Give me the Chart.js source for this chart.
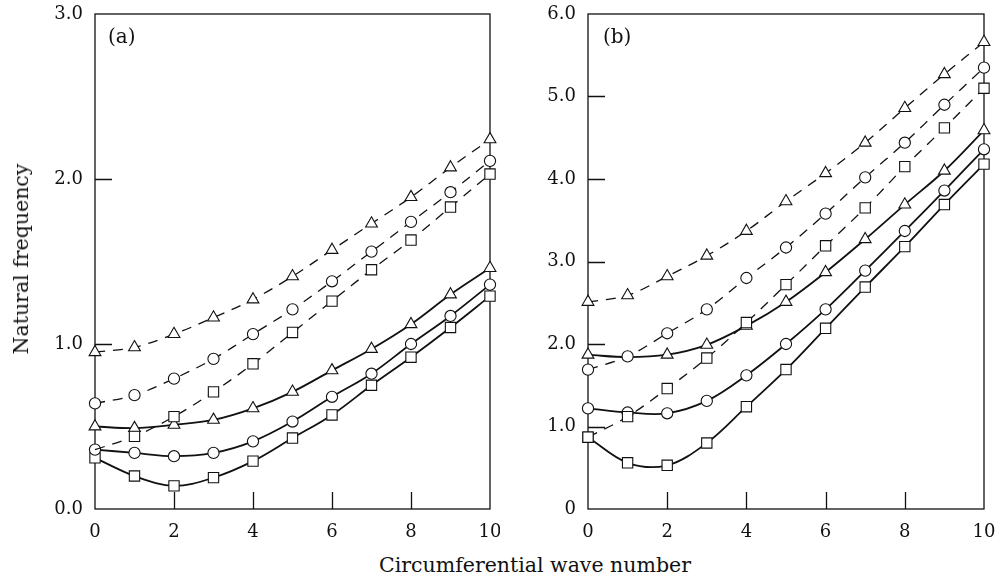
<!DOCTYPE html>
<html>
<head>
<meta charset="utf-8">
<script src="https://cdn.jsdelivr.net/npm/chart.js@4/dist/chart.umd.min.js"></script>
<style>
  html, body { margin: 0; padding: 0; background: #fff; }
  #wrap { position: relative; width: 996px; height: 578px; overflow: hidden; font-family: "DejaVu Serif", serif; color: #111; }
  canvas { position: absolute; top: 0; }
  #chartA { left: 0; }
  #chartB { left: 496px; }
  .tag { position: absolute; top: 26px; font-size: 20px; line-height: 20px; }
  #ytitle { position: absolute; left: 21px; top: 259px; font-size: 20.5px; white-space: nowrap;
            transform: translate(-50%, -50%) rotate(-90deg); }
  #xtitle { position: absolute; left: 535px; top: 565px; font-size: 20.5px; white-space: nowrap;
            transform: translate(-50%, -50%); }
</style>
</head>
<body>
<div id="wrap">
  <canvas id="chartA" width="500" height="540"></canvas>
  <canvas id="chartB" width="500" height="540"></canvas>
  <div class="tag" style="left:108px">(a)</div>
  <div class="tag" style="left:603px">(b)</div>
  <div id="ytitle">Natural frequency</div>
  <div id="xtitle">Circumferential wave number</div>
</div>
<script>
  // Circumferential wave numbers (x).
  var waveNumbers = [0, 1, 2, 3, 4, 5, 6, 7, 8, 9, 10];

  // Panel (a) natural frequencies.
  var aSolidSquare = [0.31, 0.20, 0.14, 0.19, 0.29, 0.43, 0.57, 0.75, 0.92, 1.10, 1.29];
  var aSolidCircle = [0.36, 0.34, 0.32, 0.34, 0.41, 0.53, 0.68, 0.82, 1.00, 1.17, 1.36];
  var aSolidTriangle = [0.50, 0.49, 0.51, 0.54, 0.61, 0.71, 0.84, 0.97, 1.12, 1.30, 1.46];
  var aDashSquare = [0.36, 0.44, 0.56, 0.71, 0.88, 1.07, 1.26, 1.45, 1.63, 1.83, 2.03];
  var aDashCircle = [0.64, 0.69, 0.79, 0.91, 1.06, 1.21, 1.38, 1.56, 1.74, 1.92, 2.11];
  var aDashTriangle = [0.95, 0.98, 1.06, 1.16, 1.27, 1.41, 1.57, 1.73, 1.89, 2.07, 2.24];

  // Panel (b) natural frequencies.
  var bSolidSquare = [0.87, 0.56, 0.53, 0.80, 1.24, 1.69, 2.19, 2.69, 3.18, 3.69, 4.18];
  var bSolidCircle = [1.22, 1.17, 1.16, 1.31, 1.62, 2.00, 2.42, 2.89, 3.37, 3.86, 4.36];
  var bSolidTriangle = [1.87, 1.84, 1.87, 1.99, 2.22, 2.51, 2.87, 3.27, 3.69, 4.10, 4.59];
  var bDashSquare = [0.87, 1.12, 1.46, 1.83, 2.26, 2.72, 3.19, 3.65, 4.15, 4.62, 5.10];
  var bDashCircle = [1.69, 1.85, 2.13, 2.42, 2.80, 3.17, 3.58, 4.02, 4.44, 4.90, 5.35];
  var bDashTriangle = [2.51, 2.59, 2.82, 3.07, 3.37, 3.73, 4.07, 4.44, 4.86, 5.27, 5.66];

  // Axis ranges / tick steps.
  var xRange = [0, 10];
  var xStep = 2;
  var aYRange = [0, 3];
  var bYRange = [0, 6];
  var yStep = 1;

  var INK = '#111';
  var FONT = '"DejaVu Serif", serif';

  /**
   * Draws the box round the plot area and the inward ticks.
   */
  var framePlugin = {
    id: 'frame',
    beforeDatasetsDraw: function (chart) {
      var ctx = chart.ctx;
      var a = chart.chartArea;
      var sx = chart.scales.x;
      var sy = chart.scales.y;
      ctx.save();
      ctx.strokeStyle = INK;
      ctx.lineWidth = 1.3;
      ctx.strokeRect(a.left, a.top, a.right - a.left, a.bottom - a.top);
      ctx.beginPath();
      sy.ticks.forEach(function (t) {
        if (t.value <= sy.min || t.value >= sy.max) return;
        var y = Math.round(sy.getPixelForValue(t.value)) + 0.5;
        ctx.moveTo(a.left, y);
        ctx.lineTo(a.left + 17, y);
      });
      sx.ticks.forEach(function (t) {
        if (t.value <= sx.min || t.value >= sx.max) return;
        var x = Math.round(sx.getPixelForValue(t.value)) + 0.5;
        ctx.moveTo(x, a.bottom);
        ctx.lineTo(x, a.bottom - 17);
      });
      ctx.stroke();
      ctx.restore();
    }
  };

  /**
   * Drop the label overhang padding so the layout padding alone sets the box.
   */
  function noOverhang(s) {
    s.paddingTop = 0;
    s.paddingBottom = 0;
    s.paddingLeft = 0;
    s.paddingRight = 0;
  }

  /**
   * Build one dataset.
   */
  function series(values, marker, dashed, hidden) {
    hidden = hidden || [];
    var size = { rect: 7.3, circle: 5.6, triangle: 6.8 }[marker];
    return {
      data: waveNumbers.map(function (n, i) { return { x: n, y: values[i] }; }),
      borderColor: INK,
      borderWidth: dashed ? 1.3 : 1.8,
      borderDash: dashed ? [10, 8] : [],
      tension: 0.35,
      pointStyle: marker,
      pointRadius: function (c) { return hidden.indexOf(c.dataIndex) >= 0 ? 0 : size; },
      pointBorderWidth: 1.1,
      pointBorderColor: INK,
      pointBackgroundColor: '#fff',
      clip: false
    };
  }

  /**
   * Build one panel; box is the wanted plot area in canvas pixels.
   */
  function panel(id, datasets, yRange, yLabel, box) {
    var canvas = document.getElementById(id);
    return new Chart(canvas, {
      type: 'line',
      data: { datasets: datasets },
      options: {
        responsive: false,
        animation: false,
        events: [],
        layout: { padding: { top: box.top, right: canvas.width - box.right, bottom: 0, left: 0 } },
        plugins: { legend: { display: false }, tooltip: { enabled: false } },
        scales: {
          x: {
            type: 'linear',
            min: xRange[0],
            max: xRange[1],
            grid: { display: false, drawTicks: false },
            border: { display: false },
            ticks: { stepSize: xStep, color: INK, padding: 13, font: { family: FONT, size: 18 } },
            afterFit: function (s) { s.height = canvas.height - box.bottom; noOverhang(s); }
          },
          y: {
            min: yRange[0],
            max: yRange[1],
            grid: { display: false, drawTicks: false },
            border: { display: false },
            ticks: { stepSize: yStep, color: INK, padding: 12, font: { family: FONT, size: 18 }, callback: yLabel },
            afterFit: function (s) { s.width = box.left; noOverhang(s); }
          }
        }
      },
      plugins: [framePlugin]
    });
  }

  panel('chartA', [
    series(aDashTriangle, 'triangle', true),
    series(aDashCircle, 'circle', true),
    series(aDashSquare, 'rect', true, [0]),
    series(aSolidTriangle, 'triangle', false),
    series(aSolidCircle, 'circle', false),
    series(aSolidSquare, 'rect', false)
  ], aYRange, function (v) { return v.toFixed(1); }, { left: 95, top: 14, right: 490, bottom: 509 });

  panel('chartB', [
    series(bDashTriangle, 'triangle', true),
    series(bDashCircle, 'circle', true),
    series(bDashSquare, 'rect', true),
    series(bSolidTriangle, 'triangle', false, [1]),
    series(bSolidCircle, 'circle', false),
    series(bSolidSquare, 'rect', false)
  ], bYRange, function (v) { return v === 0 ? '0' : v.toFixed(1); }, { left: 92, top: 14, right: 488, bottom: 509 });
</script>
</body>
</html>
